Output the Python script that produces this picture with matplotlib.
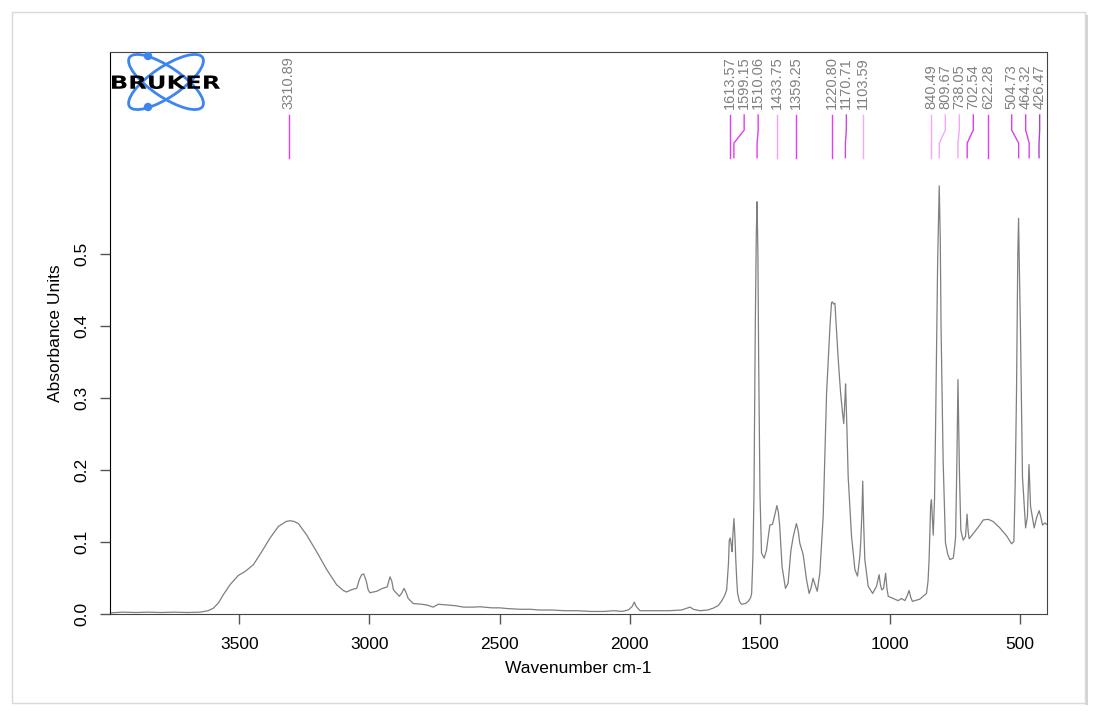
import matplotlib
matplotlib.use('Agg')
import matplotlib.pyplot as plt
from matplotlib.patches import Ellipse, Circle, Rectangle, PathPatch
from matplotlib.textpath import TextPath
from matplotlib.font_manager import FontProperties
from matplotlib.transforms import Affine2D, blended_transform_factory

plt.rcParams['font.family'] = ['Liberation Sans', 'DejaVu Sans']

# spectrum (wavenumber, absorbance)
wavenumber = [
    3996, 3950, 3900, 3850, 3800, 3750, 3700, 3651, 3620, 3600, 3580, 3562, 3536, 3504,
    3480, 3466, 3446, 3414, 3382, 3350, 3320, 3305, 3290, 3273, 3241, 3203, 3164, 3126,
    3100, 3088, 3070, 3062, 3049, 3038, 3030, 3022, 3012, 3005, 2998, 2972, 2950, 2932,
    2921, 2914, 2908, 2895, 2885, 2875, 2867, 2860, 2851, 2832, 2800, 2780, 2755, 2740,
    2736, 2703, 2670, 2639, 2600, 2575, 2530, 2500, 2470, 2420, 2380, 2350, 2300, 2250,
    2200, 2150, 2100, 2060, 2030, 2005, 1990, 1982, 1975, 1960, 1900, 1850, 1800, 1775,
    1768, 1755, 1730, 1700, 1679, 1660, 1647, 1635, 1627, 1620, 1617, 1613, 1609, 1606,
    1603, 1599, 1595, 1592, 1588, 1585, 1578, 1570, 1555, 1544, 1535, 1531, 1526, 1522,
    1517, 1513, 1510, 1507, 1504, 1499, 1493, 1483, 1474, 1461, 1451, 1442, 1434, 1428,
    1423, 1414, 1401, 1391, 1380, 1371, 1359, 1352, 1346, 1333, 1320, 1310, 1303, 1295,
    1287, 1279, 1269, 1256, 1243, 1230, 1224, 1221, 1216, 1211, 1198, 1189, 1182, 1177,
    1172, 1170, 1165, 1160, 1147, 1134, 1124, 1115, 1112, 1107, 1104, 1100, 1096, 1083,
    1066, 1051, 1041, 1036, 1031, 1024, 1016, 1011, 1006, 987, 968, 955, 942, 933,
    926, 919, 913, 885, 859, 853, 849, 843, 840, 836, 833, 828, 824, 816,
    810, 806, 803, 795, 786, 777, 769, 756, 750, 747, 742, 738, 735, 732,
    727, 718, 709, 703, 699, 695, 673, 654, 641, 622, 603, 577, 551, 532,
    523, 518, 513, 508, 505, 502, 498, 490, 478, 471, 465, 459, 445, 436,
    426, 420, 413, 404, 397]
absorbance = [
    0.001, 0.002, 0.0015, 0.002, 0.0015, 0.002, 0.0015, 0.002, 0.004, 0.0075, 0.015, 0.026, 0.040, 0.053,
    0.058, 0.062, 0.068, 0.086, 0.105, 0.121, 0.128, 0.129, 0.128, 0.125, 0.109, 0.086, 0.061, 0.040,
    0.032, 0.030, 0.033, 0.034, 0.035, 0.048, 0.054, 0.055, 0.045, 0.033, 0.029, 0.031, 0.035, 0.037,
    0.051, 0.045, 0.033, 0.028, 0.024, 0.029, 0.035, 0.030, 0.021, 0.014, 0.013, 0.012, 0.009, 0.012,
    0.013, 0.012, 0.011, 0.009, 0.009, 0.0095, 0.008, 0.008, 0.007, 0.006, 0.006, 0.005, 0.005, 0.004,
    0.004, 0.003, 0.003, 0.004, 0.003, 0.005, 0.010, 0.016, 0.010, 0.004, 0.004, 0.004, 0.005, 0.008,
    0.009, 0.006, 0.004, 0.005, 0.0075, 0.011, 0.017, 0.025, 0.033, 0.070, 0.102, 0.105, 0.095, 0.086,
    0.110, 0.132, 0.105, 0.075, 0.045, 0.028, 0.017, 0.013, 0.014, 0.017, 0.022, 0.028, 0.080, 0.167,
    0.399, 0.530, 0.572, 0.500, 0.352, 0.167, 0.084, 0.077, 0.088, 0.123, 0.124, 0.137, 0.150, 0.140,
    0.121, 0.065, 0.035, 0.042, 0.088, 0.107, 0.125, 0.115, 0.098, 0.082, 0.047, 0.028, 0.035, 0.049,
    0.040, 0.031, 0.056, 0.135, 0.306, 0.399, 0.432, 0.433, 0.430, 0.431, 0.352, 0.306, 0.280, 0.264,
    0.300, 0.319, 0.260, 0.190, 0.107, 0.061, 0.052, 0.080, 0.098, 0.140, 0.184, 0.120, 0.075, 0.038,
    0.028, 0.038, 0.054, 0.040, 0.033, 0.035, 0.056, 0.035, 0.024, 0.021, 0.018, 0.021, 0.018, 0.025,
    0.032, 0.022, 0.017, 0.020, 0.028, 0.045, 0.075, 0.150, 0.158, 0.130, 0.109, 0.160, 0.260, 0.491,
    0.594, 0.520, 0.399, 0.213, 0.098, 0.082, 0.075, 0.077, 0.095, 0.107, 0.213, 0.325, 0.260, 0.190,
    0.116, 0.102, 0.107, 0.138, 0.115, 0.104, 0.114, 0.123, 0.130, 0.131, 0.128, 0.119, 0.108, 0.097,
    0.100, 0.180, 0.306, 0.500, 0.549, 0.480, 0.399, 0.190, 0.119, 0.135, 0.207, 0.149, 0.119, 0.133,
    0.143, 0.135, 0.123, 0.126, 0.124]

peaks = [3310.89, 1613.57, 1599.15, 1510.06, 1433.75, 1359.25, 1220.80, 1170.71, 1103.59,
         840.49, 809.67, 738.05, 702.54, 622.28, 504.73, 464.32, 426.47]
peak_colors = ['#e43cf2', '#e43cf2', '#e43cf2', '#e43cf2', '#f2a0f6', '#e43cf2', '#e43cf2', '#c848e0',
               '#f4a8f8', '#f4a8f8', '#f4a8f8', '#f4a8f8', '#dc3cee', '#e43cf2', '#d840ec', '#d840ec', '#b040d0']

x_left, x_right = 3996, 397
y_low, y_high = -0.001, 0.780

fig = plt.figure(figsize=(11.02, 7.18), dpi=100)

# page frame around everything
bg = fig.add_axes([0, 0, 1, 1], zorder=0)
bg.set_xlim(0, 1102)
bg.set_ylim(718, 0)
bg.axis('off')
bg.add_patch(Rectangle((1085, 15), 3, 690, facecolor='#d4d4d4', edgecolor='none'))
bg.add_patch(Rectangle((12, 12), 1073, 691, facecolor='white', edgecolor='#d9d9d9', lw=1))

ax = fig.add_axes([0.1001, 0.1444, 0.8497, 0.7832], zorder=1)
ax.plot(wavenumber, absorbance, color='#7f7f7f', lw=0.9)
ax.set_xlim(x_left, x_right)
ax.set_ylim(y_low, y_high)
ax.set_xticks([3500, 3000, 2500, 2000, 1500, 1000, 500])
ax.set_yticks([0.0, 0.1, 0.2, 0.3, 0.4, 0.5])
ax.set_yticklabels(['0.0', '0.1', '0.2', '0.3', '0.4', '0.5'], rotation=90, va='center')
ax.tick_params(axis='both', length=7, width=1, color='#555555', labelsize=12.5, pad=9)
ax.tick_params(axis='y', pad=8)
ax.set_xlabel('Wavenumber cm-1', fontsize=12.5, labelpad=7)
ax.set_ylabel('Absorbance Units', fontsize=12.5, labelpad=8)
for side in ['top', 'right', 'bottom']:
    ax.spines[side].set_color('#444444')
ax.spines['left'].set_color('black')

# peak labels, pushed apart so they do not overlap
min_gap = 14 / (936.4 / (x_left - x_right))
lab = []
for p in peaks:
    pos = p if not lab else min(p, lab[-1] - min_gap)
    lab.append(pos)
lab[-1] = max(lab[-1], x_right + 0.5 * min_gap)
for i in range(len(lab) - 2, -1, -1):
    lab[i] = max(lab[i], lab[i + 1] + min_gap)

tr = blended_transform_factory(ax.transData, ax.transAxes)
for p, lx, c in zip(peaks, lab, peak_colors):
    ax.plot([lx, lx, p, p], [0.888, 0.861, 0.838, 0.812], color=c, lw=1, transform=tr, clip_on=False)
    ax.text(lx, 0.899, '%.2f' % p, rotation=90, ha='center', va='bottom', fontsize=10.5,
            color='#808080', transform=tr)

# Bruker logo
logo = fig.add_axes([0, 0, 1, 1], zorder=2)
logo.set_xlim(0, 1102)
logo.set_ylim(718, 0)
logo.axis('off')
logo.add_patch(Ellipse((166, 82), 88, 30, angle=34, fill=False, edgecolor='#3d85f0', lw=2))
logo.add_patch(Ellipse((166, 82), 88, 30, angle=-34, fill=False, edgecolor='#3d85f0', lw=2))
logo.add_patch(Circle((148, 56), 3.5, color='#3d85f0'))
logo.add_patch(Circle((148, 107), 3.5, color='#3d85f0'))
tp = TextPath((0, 0), 'BRUKER', size=10, prop=FontProperties(family='DejaVu Sans', weight='heavy'))
bb = tp.get_extents()
sx = 108 / bb.width
sy = 13.5 / bb.height
t = Affine2D().translate(-bb.x0, -bb.y0).scale(sx, -sy).translate(112, 89)
logo.add_patch(PathPatch(t.transform_path(tp), facecolor='black', edgecolor='none'))

fig.savefig('out.png', dpi=100)
